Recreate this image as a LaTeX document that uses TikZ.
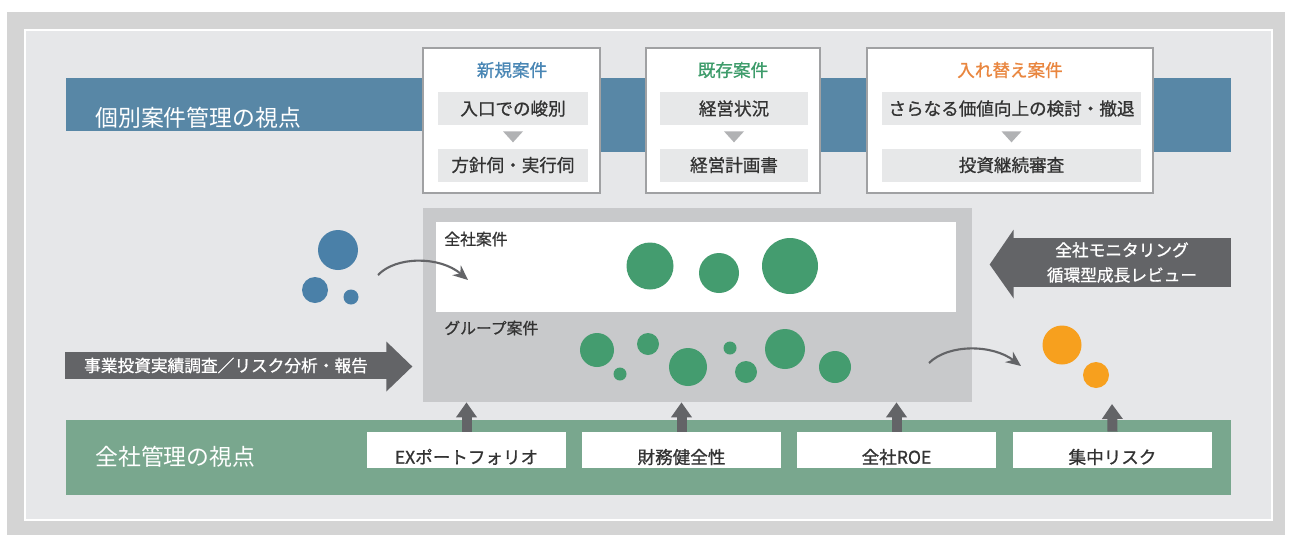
\documentclass[tikz,border=0pt]{standalone}
\usepackage{fontspec}
\setmainfont{Noto Sans CJK JP}
\newfontfamily\semibold[FakeBold=0.9]{Noto Sans CJK JP}
\usetikzlibrary{positioning, calc, arrows.meta}
\definecolor{outerframe}{HTML}{D4D4D4}
\definecolor{panelgray}{HTML}{E6E7E9}
\definecolor{bandblue}{HTML}{5887A6}
\definecolor{bandgreen}{HTML}{79A78E}
\definecolor{titleblue}{HTML}{4A87B5}
\definecolor{titlegreen}{HTML}{3E9C6B}
\definecolor{titleorange}{HTML}{E9863F}
\definecolor{dotgreen}{HTML}{449C6F}
\definecolor{dotblue}{HTML}{4A80A8}
\definecolor{dotorange}{HTML}{F7A01E}
\definecolor{arrowgray}{HTML}{636467}
\definecolor{poolgray}{HTML}{C8C9CB}
\definecolor{rowgray}{HTML}{E7E8E9}
\definecolor{markgray}{HTML}{B1B2B4}
\definecolor{boxline}{HTML}{A0A1A3}
\definecolor{inkgray}{HTML}{333333}
% small down triangle under a row
\newcommand\stepmark[1]{\fill[markgray] ($(#1.south)+(-10,6)$) -- ($(#1.south)+(10,6)$) -- ($(#1.south)+(0,17)$) -- cycle;}

\begin{document}
\begin{tikzpicture}[x=0.02cm, y=-0.02cm,
    bandlabel/.style={text=white, inner sep=0pt, font=\fontsize{13pt}{15pt}\selectfont},
    casebox/.style={draw=boxline, line width=0.8pt, fill=white, minimum height=2.9cm, inner sep=0pt},
    casetitle/.style={inner sep=0pt, font=\semibold\fontsize{10pt}{12pt}\selectfont},
    steprow/.style={fill=rowgray, minimum height=0.66cm, inner sep=0pt, text=inkgray, font=\semibold\fontsize{10pt}{12pt}\selectfont},
    dot/.style={circle, inner sep=0pt},
    flowbody/.style={fill=arrowgray, inner sep=0pt, text=white, align=center, font=\semibold\fontsize{9.5pt}{14.2pt}\selectfont},
    metric/.style={fill=white, minimum width=4.0cm, minimum height=0.72cm, inner sep=0pt, text height=15.6pt, text depth=0pt, text=inkgray, font=\semibold\fontsize{10pt}{12pt}\selectfont},
    upmark/.style={draw=arrowgray, line width=0.2cm, -{Triangle[width=0.4cm, length=0.3cm]}},
    curvearrow/.style={draw=arrowgray, line width=1.2pt, -{Stealth[length=0.3cm, width=0.26cm]}}
  ]
\useasboundingbox (0,0) rectangle (1292,535);
\fill[white] (0,0) rectangle (1292,535);
\fill[outerframe] (7,12) rectangle (1285,535);
\node[draw=white, line width=0.8pt, fill=panelgray, minimum width=24.94cm, minimum height=9.8cm, inner sep=0pt] (panel) at (648.5,275) {};

% upper band
\node[fill=bandblue, minimum width=23.3cm, minimum height=1.06cm, inner sep=0pt] (caseband) at (648.5,104.5) {};
\fill[bandblue] ($(caseband.south west)+(440,0)$) rectangle ($(caseband.south east)+(0,21)$);
\node[bandlabel, anchor=west] (caselabel) at (95,118) {個別案件管理の視点};

\node[casebox, minimum width=3.54cm] (newbox) at (511.5,120.5) {};
\node[casetitle, text=titleblue] (newtitle) at (512,70) {新規案件};
\node[steprow, minimum width=3.0cm] (newrowA) at (513,108.5) {入口での峻別};
\node[steprow, minimum width=3.0cm] (newrowB) at (513,165) {方針伺・実行伺};
\stepmark{newrowA}

\node[casebox, minimum width=3.48cm] (oldbox) at (733,120.5) {};
\node[casetitle, text=titlegreen] (oldtitle) at (733,70) {既存案件};
\node[steprow, minimum width=2.96cm] (oldrowA) at (734,108.5) {経営状況};
\node[steprow, minimum width=2.96cm] (oldrowB) at (734,165) {経営計画書};
\stepmark{oldrowA}

\node[casebox, minimum width=5.72cm] (swapbox) at (1010,120.5) {};
\node[casetitle, text=titleorange] (swaptitle) at (1010,70) {入れ替え案件};
\node[steprow, minimum width=5.18cm] (swaprowA) at (1011.5,108.5) {さらなる価値向上の検討・撤退};
\node[steprow, minimum width=5.18cm] (swaprowB) at (1011.5,165) {投資継続審査};
\stepmark{swaprowA}

% portfolio pool
\node[fill=poolgray, minimum width=11.0cm, minimum height=3.88cm, inner sep=0pt] (pool) at (697.5,305) {};
\node[fill=white, minimum width=10.4cm, minimum height=1.8cm, inner sep=0pt] (corppool) at (696,267) {};
\node[anchor=west, inner sep=0pt, text=inkgray, font=\semibold\fontsize{9pt}{11pt}\selectfont] (corplabel) at (444,239) {全社案件};
\node[anchor=west, inner sep=0pt, text=inkgray, font=\semibold\fontsize{9pt}{11pt}\selectfont] (grouplabel) at (444,328) {グループ案件};

\node[dot, fill=dotgreen, minimum size=0.94cm] (corpA) at (650,266) {};
\node[dot, fill=dotgreen, minimum size=0.8cm] (corpB) at (719,273) {};
\node[dot, fill=dotgreen, minimum size=1.12cm] (corpC) at (790,266) {};

\node[dot, fill=dotgreen, minimum size=0.68cm] (groupA) at (597,350) {};
\node[dot, fill=dotgreen, minimum size=0.44cm] (groupB) at (648,344) {};
\node[dot, fill=dotgreen, minimum size=0.26cm] (groupC) at (620,374) {};
\node[dot, fill=dotgreen, minimum size=0.76cm] (groupD) at (688,367) {};
\node[dot, fill=dotgreen, minimum size=0.26cm] (groupE) at (730,348) {};
\node[dot, fill=dotgreen, minimum size=0.44cm] (groupF) at (746,372) {};
\node[dot, fill=dotgreen, minimum size=0.8cm] (groupG) at (785,349) {};
\node[dot, fill=dotgreen, minimum size=0.64cm] (groupH) at (835,367) {};

% incoming and outgoing cases
\node[dot, fill=dotblue, minimum size=0.8cm] (entryA) at (338,250) {};
\node[dot, fill=dotblue, minimum size=0.52cm] (entryB) at (315,290) {};
\node[dot, fill=dotblue, minimum size=0.3cm] (entryC) at (351,297) {};
\node[dot, fill=dotorange, minimum size=0.78cm] (leaveA) at (1062,345) {};
\node[dot, fill=dotorange, minimum size=0.52cm] (leaveB) at (1096,375) {};

\coordinate (driftstart) at (378,275);
\coordinate (driftend) at (468,280);
\draw[curvearrow] (driftstart) .. controls (396,256) and (440,256) .. (driftend);
\coordinate (exitstart) at (929,363);
\coordinate (exitend) at (1021,366);
\draw[curvearrow] (exitstart) .. controls (948,344) and (992,344) .. (exitend);

% big flow arrows
\node[flowbody, minimum width=6.44cm, minimum height=0.54cm] (survey) at (226,365.5) {事業投資実績調査／リスク分析・報告};
\fill[arrowgray] ($(survey.east)+(-1,-24)$) -- ($(survey.east)+(25,1)$) -- ($(survey.east)+(-1,26)$) -- cycle;
\node[flowbody, minimum width=4.36cm, minimum height=0.98cm] (review) at (1122,262.5) {全社モニタリング\\循環型成長レビュー};
\fill[arrowgray] ($(review.west)+(1,-33)$) -- ($(review.west)+(-23,2)$) -- ($(review.west)+(1,36)$) -- cycle;

% lower band
\node[fill=bandgreen, minimum width=23.3cm, minimum height=1.5cm, inner sep=0pt] (groupband) at (648.5,457.5) {};
\node[bandlabel, anchor=west] (grouplabelband) at (95,457) {全社管理の視点};

\node[metric] (portfolio) at (466.5,450) {EXポートフォリオ};
\node[metric] (soundness) at (681.5,450) {財務健全性};
\node[metric] (roe) at (896.5,450) {全社ROE};
\node[metric] (risk) at (1112.5,450) {集中リスク};

\coordinate (riskend) at (1112,404);
\draw[upmark] (portfolio.north) -- (portfolio.north |- pool.south);
\draw[upmark] (soundness.north) -- (soundness.north |- pool.south);
\draw[upmark] (roe.north) -- (roe.north |- pool.south);
\draw[upmark] (risk.north) -- (riskend);
\end{tikzpicture}
\end{document}
